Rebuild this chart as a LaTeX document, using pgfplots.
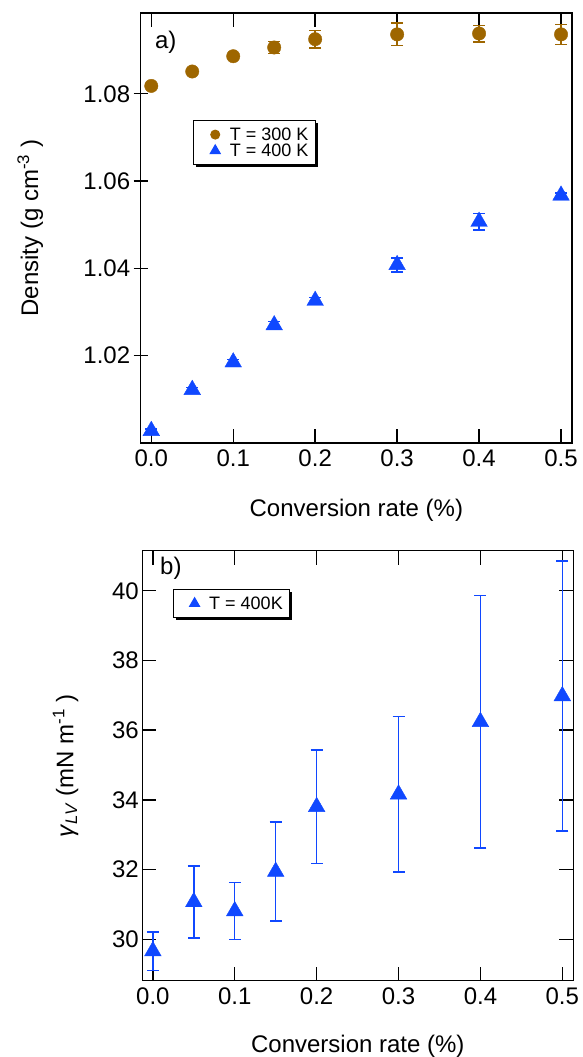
\documentclass[border=0pt]{standalone}
\usepackage{fontspec}
\setmainfont{Liberation Sans}
\usepackage{pgfplots}
\pgfplotsset{compat=1.18}
\usetikzlibrary{shadows}
\definecolor{brn}{RGB}{158,102,0}
\definecolor{blu}{RGB}{16,72,255}

\pgfplotstableread{
x y e
0.00 1.0818 0.0003
0.05 1.0851 0.0003
0.10 1.0886 0.0004
0.15 1.0906 0.0014
0.20 1.0925 0.0020
0.30 1.0936 0.0026
0.40 1.0938 0.0019
0.50 1.0936 0.0023
}\tabA
\pgfplotstableread{
x y e
0.00 1.0028 0.0004
0.05 1.0122 0.0005
0.10 1.0185 0.0006
0.15 1.0270 0.0008
0.20 1.0326 0.0008
0.30 1.0408 0.0016
0.40 1.0507 0.0019
0.50 1.0567 0.0006
}\tabB
\pgfplotstableread{
x y e
0.00 29.66 0.55
0.05 31.07 1.03
0.10 30.81 0.81
0.15 31.94 1.42
0.20 33.80 1.63
0.30 34.16 2.23
0.40 36.24 3.62
0.50 36.98 3.87
}\tabC

\begin{document}
\begin{tikzpicture}
\useasboundingbox (0pt,0pt) rectangle (582pt,-1057pt);
\pgfplotsset{
 common/.style={
  scale only axis, width=431.3pt, height=430pt,
  axis line style={line width=1.4pt},
  tick style={line width=1.4pt, black},
  major tick length=14pt,
  xmin=-0.0129, xmax=0.5134,
  xtick={0,0.1,0.2,0.3,0.4,0.5},
  tick label style={font=\fontsize{24}{24}\selectfont},
  /pgf/number format/assume math mode=true,
  xticklabel style={yshift=-3pt, /pgf/number format/.cd, fixed, fixed zerofill, precision=1},
  label style={font=\fontsize{24}{24}\selectfont},
  xlabel={Conversion rate (\%)},
  legend style={font=\fontsize{18}{18}\selectfont, draw=black, line width=1pt, fill=white,
    drop shadow={shadow xshift=2.5pt, shadow yshift=-2.5pt, fill=black, opacity=1},
    inner xsep=16.4pt, inner ysep=6pt, nodes={inner xsep=2pt, inner ysep=1pt},
    /tikz/every odd column/.append style={column sep=7.6pt}},
  legend cell align=left,
  error bars/error bar style={line width=1.4pt},
  error bars/error mark options={rotate=90, mark size=6pt, line width=1.4pt},
 }
}
\begin{axis}[common, at={(140.7pt,-13pt)}, anchor=north west,
  ymin=1.0, ymax=1.0985, ytick={1.02,1.04,1.06,1.08},
  yticklabel style={/pgf/number format/.cd, fixed, fixed zerofill, precision=2},
  xtick pos=both, ytick pos=left, xtick align=inside, ytick align=center,
  ylabel={Density (g cm\textsuperscript{-3} )},
  ylabel style={at={(axis description cs:-0.238,0.5)}, anchor=base},
  xlabel style={at={(axis description cs:0.5,-0.171)}, anchor=base},
  legend style={at={(0.122,0.751)}, anchor=north west}]
\addplot[brn, only marks, mark=*, mark size=6.7pt, legend image post style={mark size=4.5pt},
  error bars/.cd, y dir=both, y explicit] table[x=x, y=y, y error=e] {\tabA};
\addlegendentry{T = 300 K\hspace*{-11.8pt}}
\addplot[blu, only marks, mark=triangle*, mark size=9.6pt, legend image post style={mark size=5.8pt},
  error bars/.cd, y dir=both, y explicit] table[x=x, y=y, y error=e] {\tabB};
\addlegendentry{T = 400 K\hspace*{-11.8pt}}
\node[anchor=west, inner sep=0pt, font=\fontsize{24}{24}\selectfont] at (rel axis cs:0.033,0.933) {a)};
\end{axis}

\begin{axis}[common, at={(142.3pt,-550.7pt)}, anchor=north west, width=431pt,
  ymin=28.81, ymax=41.15, ytick={30,32,34,36,38,40},
  tick align=inside, xtick pos=both, ytick pos=both,
  ylabel={\textit{γ}\textsubscript{\textit{LV}} (mN m\textsuperscript{-1} )},
  ylabel style={at={(axis description cs:-0.160,0.5)}, anchor=base},
  xlabel style={at={(axis description cs:0.5,-0.166)}, anchor=base},
  legend style={at={(0.0705,0.911)}, anchor=north west}]
\addplot[blu, only marks, mark=triangle*, mark size=9.6pt, legend image post style={mark size=5.8pt},
  error bars/.cd, y dir=both, y explicit] table[x=x, y=y, y error=e] {\tabC};
\addlegendentry{T = 400K\hspace*{-11.8pt}}
\node[anchor=west, inner sep=0pt, font=\fontsize{24}{24}\selectfont] at (rel axis cs:0.041,0.96) {b)};
\end{axis}
\end{tikzpicture}
\end{document}
